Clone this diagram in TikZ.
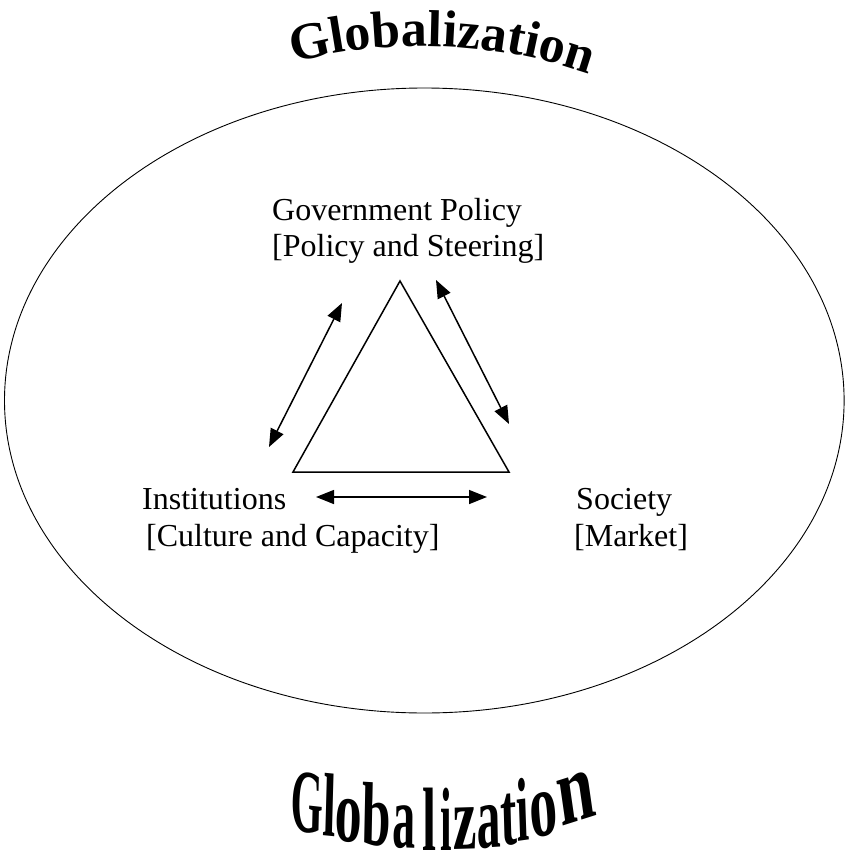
\documentclass[tikz,border=0pt]{standalone}
\usepackage{fontspec}
\setmainfont{Liberation Serif}
\usetikzlibrary{arrows.meta,decorations.text}
\begin{document}
\begin{tikzpicture}[x=1pt,y=1pt,
  lbl/.style={anchor=base west,inner sep=0pt,font=\fontsize{32}{37}\selectfont},
  dbl/.style={line width=1.5pt,{Triangle[length=18pt,width=14pt]}-{Triangle[length=18pt,width=14pt]}},
  tri/.style={line width=1.5pt,line join=miter},
  ring/.style={line width=0.9pt},
  glet/.style={anchor=base,inner sep=0pt,text depth=0pt,font=\bfseries\fontsize{90}{90}\selectfont}]
\useasboundingbox (0,0) rectangle (845,-853);
\fill[white] (0,0) rectangle (845,-853);

% outer ellipse
\draw[ring] (424.3,-400.5) ellipse [x radius=419.8, y radius=312.5];

% arched title
\path[decorate,decoration={text along path,text align=center,
  text={|\bfseries\fontsize{52}{52}\selectfont|Globalization}}]
  (422,-555) ++(107.75:509) arc[start angle=107.75,end angle=67.75,radius=509];

% triangle
\coordinate (apex) at (400,-281);
\coordinate (bl) at (293,-472);
\coordinate (br) at (509,-472);
\draw[tri] (apex) -- (br) -- (bl) -- cycle;

% labels
\node[lbl] (gov) at (272,-220) {Government Policy};
\node[lbl] (govs) at (272,-256) {[Policy and Steering]};
\node[lbl] (inst) at (142,-509) {Institutions};
\node[lbl] (insts) at (146,-546) {[Culture and Capacity]};
\node[lbl] (soc) at (576,-509) {Society};
\node[lbl] (socs) at (574,-546) {[Market]};

% double arrows
\coordinate (la) at (269,-447);
\coordinate (lb) at (342,-303);
\coordinate (ra) at (436,-280);
\coordinate (rb) at (509,-424);
\coordinate (ba) at (316,-497);
\coordinate (bb) at (487,-497);
\draw[dbl] (la) -- (lb);
\draw[dbl] (ra) -- (rb);
\draw[dbl] (ba) -- (bb);

% bottom warped title
\foreach \c/\x/\y/\s/\r/\v [count=\i] in {
  G/307/832/0.46/-3/1,
  l/329/836/0.52/-3/1,
  o/347.5/842/0.6/-3/1,
  b/376.5/845/0.58/-2/1,
  a/403.5/848/0.51/-1/1,
  l/429/850/0.56/0/1,
  i/446/850/0.46/0/1,
  z/465.5/849/0.59/1/1,
  a/489/848/0.53/2/1,
  t/509.5/845/0.54/3/1,
  i/524/841/0.5/4/1,
  o/545/836/0.62/7/1.02,
  n/579.5/821/0.74/12/1.1}
  \node[glet,xscale=\s,yscale=\v,rotate=\r] (g\i) at (\x,-\y) {\c};
\end{tikzpicture}
\end{document}
